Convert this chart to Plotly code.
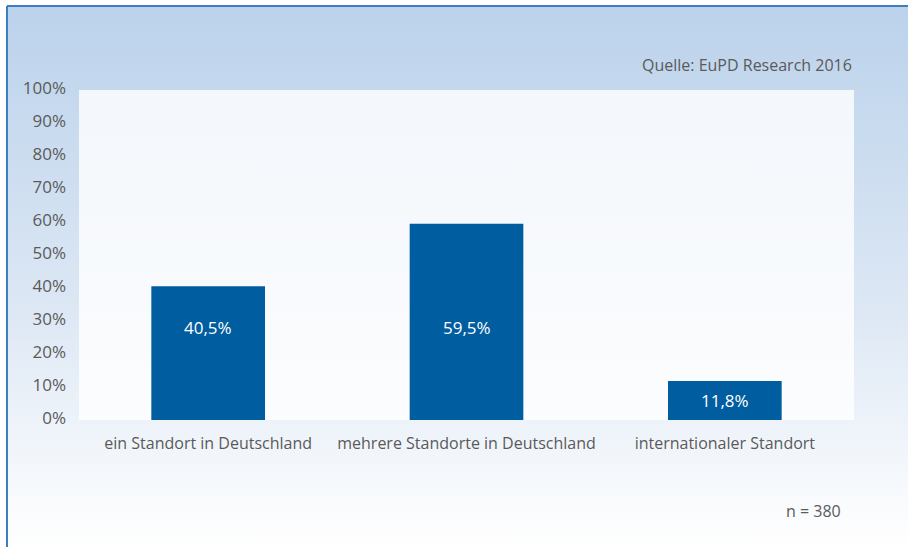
import base64
import plotly.graph_objects as go

# Data
categories = ["ein Standort in Deutschland", "mehrere Standorte in Deutschland", "internationaler Standort"]
shares = [40.5, 59.5, 11.8]
value_labels = ["40,5%", "59,5%", "11,8%"]
y_ticks = [0, 10, 20, 30, 40, 50, 60, 70, 80, 90, 100]
y_tick_labels = [f"{t}%" for t in y_ticks]
source_text = "Quelle: EuPD Research 2016"
sample_text = "n = 380"

# Figure geometry (pixels)
W, H = 908, 547
L, R, T, B = 79, 54, 90, 127
PW, PH = W - L - R, H - T - B
FX, FY = 7, 6  # top-left corner of the framed panel


def px_x(px):
    return (px - L) / PW


def px_y(py):
    return (H - B - py) / PH


BAR_COLOR = "#005DA0"
TEXT_COLOR = "#5A5A5A"
FONT = "Open Sans"

# Panel background: vertical gradient with a translucent white plot area on top
gw, gh = W - FX, H - FY
svg = (
    f'<svg xmlns="http://www.w3.org/2000/svg" width="{gw}" height="{gh}" '
    f'viewBox="0 0 {gw} {gh}" preserveAspectRatio="none">'
    '<defs><linearGradient id="g" x1="0" y1="0" x2="0" y2="1">'
    '<stop offset="0" stop-color="#BBD2EB"/>'
    '<stop offset="0.55" stop-color="#DCE7F4"/>'
    '<stop offset="1" stop-color="#FFFFFF"/>'
    '</linearGradient></defs>'
    f'<rect width="{gw}" height="{gh}" fill="url(#g)"/>'
    f'<rect x="{L - FX}" y="{T - FY}" width="{PW}" height="{PH}" fill="#FFFFFF" fill-opacity="0.8"/>'
    '</svg>'
)
bg_src = "data:image/svg+xml;base64," + base64.b64encode(svg.encode()).decode()

fig = go.Figure()
fig.add_trace(go.Bar(
    x=categories,
    y=shares,
    width=0.44,
    marker=dict(color=BAR_COLOR, line=dict(width=0)),
    hoverinfo="skip",
))

# Value labels inside the bars: near a fixed height for tall bars, centred for short ones
LABEL_Y = 28
for cat, v, lab in zip(categories, shares, value_labels):
    fig.add_annotation(
        x=cat, y=LABEL_Y if v > LABEL_Y + 5 else v / 2, text=lab, showarrow=False,
        font=dict(family=FONT, size=17, color="#FFFFFF"),
        xref="x", yref="y",
    )

fig.add_annotation(
    x=px_x(854), y=px_y(65), xref="paper", yref="paper", text=source_text,
    showarrow=False, xanchor="right", yanchor="middle",
    font=dict(family=FONT, size=16, color=TEXT_COLOR),
)
fig.add_annotation(
    x=px_x(843), y=px_y(511), xref="paper", yref="paper", text=sample_text,
    showarrow=False, xanchor="right", yanchor="middle",
    font=dict(family=FONT, size=16, color=TEXT_COLOR),
)

fig.add_layout_image(
    source=bg_src, xref="paper", yref="paper",
    x=px_x(FX), y=px_y(FY), sizex=gw / PW, sizey=gh / PH,
    xanchor="left", yanchor="top", sizing="stretch", layer="below",
)

# Frame lines on top and left edge
line_style = dict(color="#3C7EC0", width=2)
fig.add_shape(type="line", xref="paper", yref="paper",
              x0=px_x(FX), x1=px_x(W), y0=px_y(FY), y1=px_y(FY), line=line_style)
fig.add_shape(type="line", xref="paper", yref="paper",
              x0=px_x(FX), x1=px_x(FX), y0=px_y(FY), y1=px_y(H), line=line_style)

fig.update_layout(
    width=W, height=H,
    margin=dict(l=L, r=R, t=T, b=B, pad=0),
    paper_bgcolor="#FFFFFF",
    plot_bgcolor="rgba(0,0,0,0)",
    showlegend=False,
    bargap=0.56,
    font=dict(family=FONT, size=16, color=TEXT_COLOR),
    xaxis=dict(
        showgrid=False, zeroline=False, showline=False, ticks="",
        tickfont=dict(family=FONT, size=16, color=TEXT_COLOR),
        ticklabelstandoff=12, fixedrange=True,
    ),
    yaxis=dict(
        range=[0, 100], tickvals=y_ticks, ticktext=y_tick_labels,
        showgrid=False, zeroline=False, showline=False, ticks="",
        tickfont=dict(family=FONT, size=17, color=TEXT_COLOR),
        ticklabelstandoff=12, ticklabelshift=-2, fixedrange=True,
    ),
)

fig.write_html("out.html", config={"displayModeBar": False})
